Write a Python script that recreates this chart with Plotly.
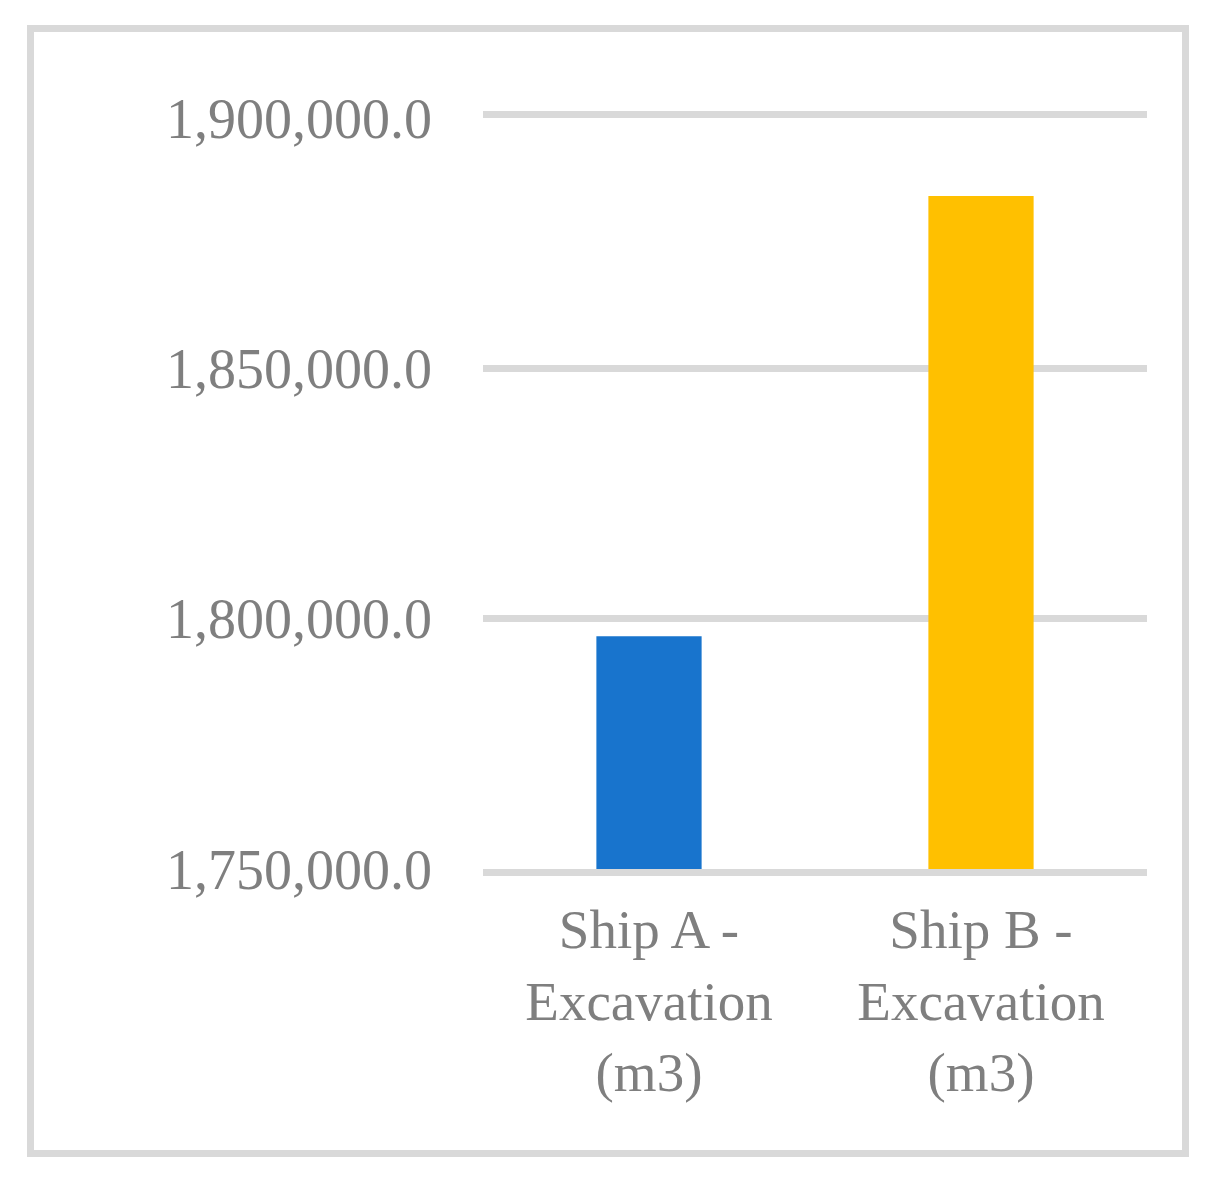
import plotly.graph_objects as go

# data
categories = ["Ship A -<br>Excavation<br>(m3)", "Ship B -<br>Excavation<br>(m3)"]
volumes = [1796500, 1884400]
bar_colors = ["#1874CD", "#FFC000"]

OFF = 8  # page body margin
W, H = 1215 - OFF, 1182 - OFF
L, R, T, B = 475, 68, 110, 313
grey_text = "#7F7F7F"
grid_grey = "#D9D9D9"


def px_x(px):
    return (px - OFF - L) / (W - L - R)


def px_y(py):
    return (H - B - (py - OFF)) / (H - T - B)


fig = go.Figure(go.Bar(
    x=categories,
    y=volumes,
    marker=dict(color=bar_colors, line=dict(width=0)),
))

fig.update_layout(
    width=W, height=H,
    margin=dict(l=L, r=R, t=T, b=B),
    paper_bgcolor="white",
    plot_bgcolor="white",
    bargap=0.683,
    showlegend=False,
    font=dict(family="Liberation Serif", color=grey_text, size=56),
)

fig.update_yaxes(
    range=[1750000, 1900000],
    dtick=50000,
    tickformat=",.1f",
    showgrid=True, gridcolor=grid_grey, gridwidth=7,
    zeroline=False,
    showline=False,
    ticks="",
    ticklabelstandoff=50,
    tickfont=dict(size=56, color=grey_text),
)
fig.update_xaxes(
    showline=True, linecolor=grid_grey, linewidth=7,
    mirror=True,
    ticks="",
    ticklabelstandoff=6,
    tickfont=dict(size=55, color=grey_text),
)

# outer chart border
fig.add_shape(
    type="rect", xref="paper", yref="paper",
    x0=px_x(30.5), x1=px_x(1185.5), y0=px_y(1153.5), y1=px_y(28.5),
    line=dict(color=grid_grey, width=7),
    fillcolor="rgba(0,0,0,0)",
    layer="below",
)

fig.write_html("out.html")
